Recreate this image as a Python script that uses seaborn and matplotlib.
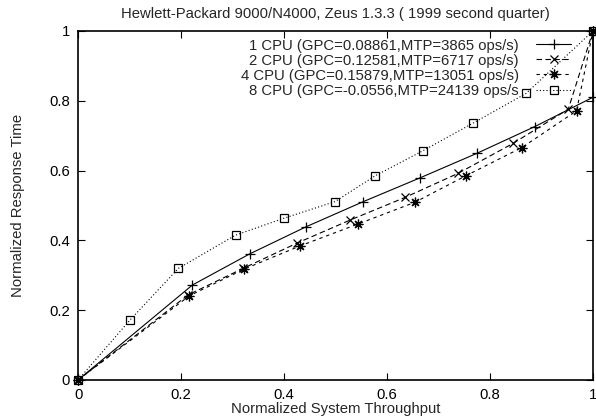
import matplotlib
matplotlib.use("Agg")
import matplotlib.pyplot as plt
import seaborn as sns
import pandas as pd

# Normalized throughput (x) and normalized response time (y) per CPU configuration
x_1cpu = [0, 0.222, 0.333, 0.443, 0.554, 0.664, 0.774, 0.887, 1.0, 1.0]
y_1cpu = [0, 0.272, 0.361, 0.439, 0.511, 0.579, 0.649, 0.726, 0.810, 1.0]
x_2cpu = [0, 0.214, 0.321, 0.425, 0.528, 0.635, 0.738, 0.845, 0.952, 1.0]
y_2cpu = [0, 0.244, 0.320, 0.392, 0.458, 0.523, 0.592, 0.678, 0.776, 1.0]
x_4cpu = [0, 0.216, 0.323, 0.431, 0.544, 0.654, 0.753, 0.862, 0.968, 1.0]
y_4cpu = [0, 0.241, 0.318, 0.384, 0.447, 0.509, 0.585, 0.666, 0.771, 1.0]
x_8cpu = [0, 0.101, 0.195, 0.306, 0.399, 0.499, 0.577, 0.670, 0.766, 0.870, 1.0]
y_8cpu = [0, 0.172, 0.320, 0.415, 0.463, 0.511, 0.585, 0.657, 0.735, 0.821, 1.0]

labels = [
    "1 CPU (GPC=0.08861,MTP=3865 ops/s)",
    "2 CPU (GPC=0.12581,MTP=6717 ops/s)",
    "4 CPU (GPC=0.15879,MTP=13051 ops/s)",
    "8 CPU (GPC=-0.0556,MTP=24139 ops/s",
]
tick_values = [0, 0.2, 0.4, 0.6, 0.8, 1]
tick_labels = ["0", "0.2", "0.4", "0.6", "0.8", "1"]

series = [(x_1cpu, y_1cpu), (x_2cpu, y_2cpu), (x_4cpu, y_4cpu), (x_8cpu, y_8cpu)]

sns.set_theme(style="ticks")
plt.rcParams["font.family"] = ["Liberation Sans", "DejaVu Sans"]
FS = 10.7

styles = [
    dict(linestyle="-", marker="+", ms=7, mfc="black"),
    dict(linestyle=(0, (5, 3)), marker="x", ms=6, mfc="black"),
    dict(linestyle=(0, (3, 3.5)), marker=(8, 2, 0), ms=7, mfc="black"),
    dict(linestyle=(0, (1, 2)), marker="s", ms=6, mfc="none"),
]

fig = plt.figure(figsize=(5.96, 4.18), dpi=100)
ax = fig.add_axes([0.131, 0.091, 0.864, 0.835])

for (xs, ys), label, st in zip(series, labels, styles):
    df = pd.DataFrame({"x": xs, "y": ys})
    sns.lineplot(data=df, x="x", y="y", ax=ax, sort=False, estimator=None,
                 color="black", lw=0.8, label=label, clip_on=False,
                 linestyle=st["linestyle"], marker=st["marker"],
                 markersize=st["ms"], markerfacecolor=st["mfc"],
                 markeredgecolor="black", markeredgewidth=0.9)

ax.set_xlim(0, 1)
ax.set_ylim(0, 1)
ax.set_xticks(tick_values)
ax.set_xticklabels(tick_labels)
ax.set_yticks(tick_values)
ax.set_yticklabels(tick_labels)
ax.tick_params(direction="in", length=5, width=0.8, top=True, right=True,
               labelsize=FS, pad=6, colors="black")
for s in ax.spines.values():
    s.set_linewidth(1.2)
    s.set_color("black")

ax.set_xlabel("Normalized System Throughput", fontsize=FS, labelpad=0)
ax.set_ylabel("Normalized Response Time", fontsize=FS, labelpad=17)
ax.set_title("Hewlett-Packard 9000/N4000, Zeus 1.3.3 ( 1999 second quarter)",
             fontsize=FS, pad=9)

leg = ax.legend(loc="upper right", bbox_to_anchor=(0.958, 0.978),
                frameon=False, markerfirst=False,
                handlelength=2.35, handletextpad=1.2, labelspacing=0.07,
                borderaxespad=0.0, borderpad=0.0, fontsize=FS)

fig.savefig("out.png", dpi=100)
